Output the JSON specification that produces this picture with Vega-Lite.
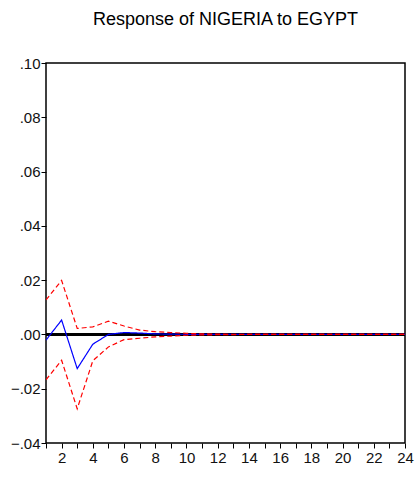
{
  "$schema": "https://vega.github.io/schema/vega-lite/v6.json",
  "autosize": "none",
  "width": 359,
  "height": 380,
  "padding": {"left": 46, "top": 63, "right": 14, "bottom": 36},
  "background": "white",
  "title": {"text": "Response of NIGERIA to EGYPT", "font": "Liberation Sans", "fontSize": 18, "fontWeight": "normal", "color": "#000", "anchor": "middle", "offset": 27},
  "config": {
    "view": {"stroke": "#000", "strokeWidth": 1.5},
    "axis": {"domain": false, "grid": false, "labelFont": "Liberation Sans", "labelFontSize": 15, "labelColor": "#111", "tickColor": "#000", "tickSize": 5, "title": null}
  },
  "data": {"values": [
    {"h":1,"s":"resp","v":-0.0021},{"h":2,"s":"resp","v":0.0053},{"h":3,"s":"resp","v":-0.0126},{"h":4,"s":"resp","v":-0.0036},{"h":5,"s":"resp","v":0.0},{"h":6,"s":"resp","v":0.0007},{"h":7,"s":"resp","v":0.0005},{"h":8,"s":"resp","v":0.0002},{"h":9,"s":"resp","v":0.0001},{"h":10,"s":"resp","v":0.00005},{"h":11,"s":"resp","v":0},{"h":12,"s":"resp","v":0},{"h":13,"s":"resp","v":0},{"h":14,"s":"resp","v":0},{"h":15,"s":"resp","v":0},{"h":16,"s":"resp","v":0},{"h":17,"s":"resp","v":0},{"h":18,"s":"resp","v":0},{"h":19,"s":"resp","v":0},{"h":20,"s":"resp","v":0},{"h":21,"s":"resp","v":0},{"h":22,"s":"resp","v":0},{"h":23,"s":"resp","v":0},{"h":24,"s":"resp","v":0},
    {"h":1,"s":"upper","v":0.0127},{"h":2,"s":"upper","v":0.0199},{"h":3,"s":"upper","v":0.0022},{"h":4,"s":"upper","v":0.0028},{"h":5,"s":"upper","v":0.0049},{"h":6,"s":"upper","v":0.0031},{"h":7,"s":"upper","v":0.0016},{"h":8,"s":"upper","v":0.0010},{"h":9,"s":"upper","v":0.0007},{"h":10,"s":"upper","v":0.0004},{"h":11,"s":"upper","v":0.0002},{"h":12,"s":"upper","v":0.0001},{"h":13,"s":"upper","v":0.00005},{"h":14,"s":"upper","v":0.00001},{"h":15,"s":"upper","v":0.00001},{"h":16,"s":"upper","v":0.00001},{"h":17,"s":"upper","v":0.00001},{"h":18,"s":"upper","v":0.00001},{"h":19,"s":"upper","v":0.00001},{"h":20,"s":"upper","v":0.00001},{"h":21,"s":"upper","v":0.00001},{"h":22,"s":"upper","v":0.00001},{"h":23,"s":"upper","v":0.00001},{"h":24,"s":"upper","v":0.00001},
    {"h":1,"s":"lower","v":-0.0167},{"h":2,"s":"lower","v":-0.0095},{"h":3,"s":"lower","v":-0.0274},{"h":4,"s":"lower","v":-0.0097},{"h":5,"s":"lower","v":-0.0046},{"h":6,"s":"lower","v":-0.0019},{"h":7,"s":"lower","v":-0.0014},{"h":8,"s":"lower","v":-0.0009},{"h":9,"s":"lower","v":-0.0006},{"h":10,"s":"lower","v":-0.0003},{"h":11,"s":"lower","v":-0.0002},{"h":12,"s":"lower","v":-0.0001},{"h":13,"s":"lower","v":-0.00005},{"h":14,"s":"lower","v":-0.00001},{"h":15,"s":"lower","v":-0.00001},{"h":16,"s":"lower","v":-0.00001},{"h":17,"s":"lower","v":-0.00001},{"h":18,"s":"lower","v":-0.00001},{"h":19,"s":"lower","v":-0.00001},{"h":20,"s":"lower","v":-0.00001},{"h":21,"s":"lower","v":-0.00001},{"h":22,"s":"lower","v":-0.00001},{"h":23,"s":"lower","v":-0.00001},{"h":24,"s":"lower","v":-0.00001}
  ]},
  "layer": [
    {
      "mark": {"type": "rule", "color": "#000", "strokeWidth": 1.5},
      "encoding": {"y": {"datum": 0, "type": "quantitative"}}
    },
    {
      "mark": {"type": "line", "strokeWidth": 1.2, "clip": true},
      "encoding": {
        "x": {"field": "h", "type": "quantitative", "scale": {"domain": [1, 24], "nice": false, "zero": false},
              "axis": {"values": [1,2,3,4,5,6,7,8,9,10,11,12,13,14,15,16,17,18,19,20,21,22,23,24], "labelExpr": "datum.value % 2 == 0 ? datum.value : ''", "labelPadding": 2, "labelFlush": false}},
        "y": {"field": "v", "type": "quantitative", "scale": {"domain": [-0.04, 0.10], "nice": false, "zero": false},
              "axis": {"values": [-0.04,-0.02,0,0.02,0.04,0.06,0.08,0.10], "labelExpr": "replace(format(datum.value, '.2f'), '0.', '.')", "labelPadding": 1}},
        "color": {"field": "s", "type": "nominal", "scale": {"domain": ["resp","upper","lower"], "range": ["#0000ff","#ff0000","#ff0000"]}, "legend": null},
        "strokeDash": {"field": "s", "type": "nominal", "scale": {"domain": ["resp","upper","lower"], "range": [[1,0],[5,3],[5,3]]}, "legend": null}
      }
    }
  ]
}
